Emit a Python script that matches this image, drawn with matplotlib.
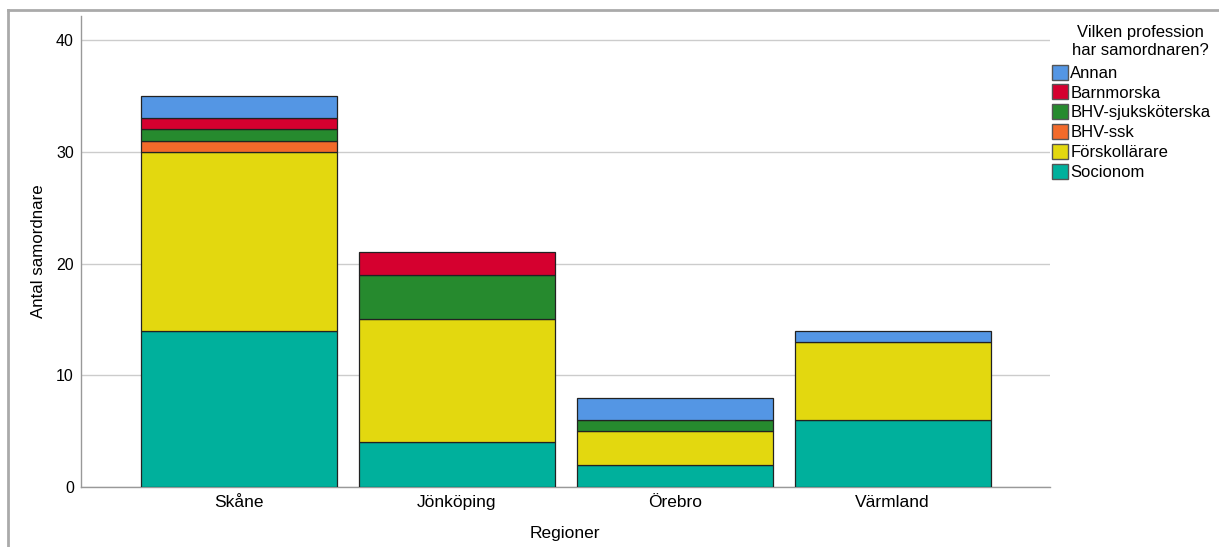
import numpy as np
import matplotlib.pyplot as plt
from matplotlib.patches import Patch

plt.rcParams['font.family'] = ['Liberation Sans', 'DejaVu Sans']

regions = ["Skåne", "Jönköping", "Örebro", "Värmland"]
professions = ["Socionom", "Förskollärare", "BHV-ssk", "BHV-sjuksköterska",
               "Barnmorska", "Annan"]
socionom = [14, 4, 2, 6]
forskollarare = [16, 11, 3, 7]
bhv_ssk = [1, 0, 0, 0]
bhv_sjukskoterska = [1, 4, 1, 0]
barnmorska = [1, 2, 0, 0]
annan = [2, 0, 2, 1]

series = [socionom, forskollarare, bhv_ssk, bhv_sjukskoterska, barnmorska, annan]
colors = ["#00B09C", "#E3D80F", "#F26A2A", "#268A2E", "#D5002F", "#5496E4"]

fig = plt.figure(figsize=(12.19, 5.47), dpi=100)
ax = fig.add_axes([0.0664, 0.1097, 0.7946, 0.861])

x = np.arange(len(regions))
bottom = np.zeros(len(regions))
for vals, col in zip(series, colors):
    vals = np.array(vals, dtype=float)
    mask = vals > 0
    ax.bar(x[mask], vals[mask], bottom=bottom[mask], width=0.9, color=col,
           edgecolor="#222222", linewidth=0.9, zorder=3)
    bottom += vals

ax.set_xlim(-0.725, 3.72)
ax.set_ylim(0, 42.15)
ax.set_yticks([0, 10, 20, 30, 40])
ax.set_xticks(x)
ax.set_xticklabels(regions)
ax.tick_params(axis="y", length=0, labelsize=11.5, pad=5)
ax.tick_params(axis="x", length=0, labelsize=12.5, pad=6)
ax.yaxis.grid(True, color="#CCCCCC", linewidth=1.0, zorder=0)
for s in ["top", "right"]:
    ax.spines[s].set_visible(False)
for s in ["left", "bottom"]:
    ax.spines[s].set_color("#999999")
    ax.spines[s].set_linewidth(1.0)

ax.set_ylabel("Antal samordnare", fontsize=12.2, va="center")
ax.yaxis.set_label_coords(-0.044, 0.5)
ax.set_xlabel("Regioner", fontsize=12.5, va="center")
ax.xaxis.set_label_coords(0.5, -0.098)

# legend (reverse order, top = Annan)
handles = [Patch(facecolor=c, edgecolor="#555555", label=p)
           for p, c in zip(professions, colors)][::-1]
fig.text(0.9355, 0.955, "Vilken profession\nhar samordnaren?", ha="center",
         va="top", fontsize=12, linespacing=1.25)
fig.legend(handles=handles, loc="upper left", bbox_to_anchor=(0.8575, 0.894),
           frameon=False, fontsize=12, handlelength=0.95, handleheight=1.0,
           handletextpad=0.15, labelspacing=0.22, borderaxespad=0)

# outer frame (top and left)
fig.add_artist(plt.Line2D([0.0066, 1.0], [0.982, 0.982], color="#AAAAAA",
                          lw=2, transform=fig.transFigure))
fig.add_artist(plt.Line2D([0.0066, 0.0066], [0.0, 0.982], color="#AAAAAA",
                          lw=2, transform=fig.transFigure))

fig.savefig("out.png", dpi=100)
